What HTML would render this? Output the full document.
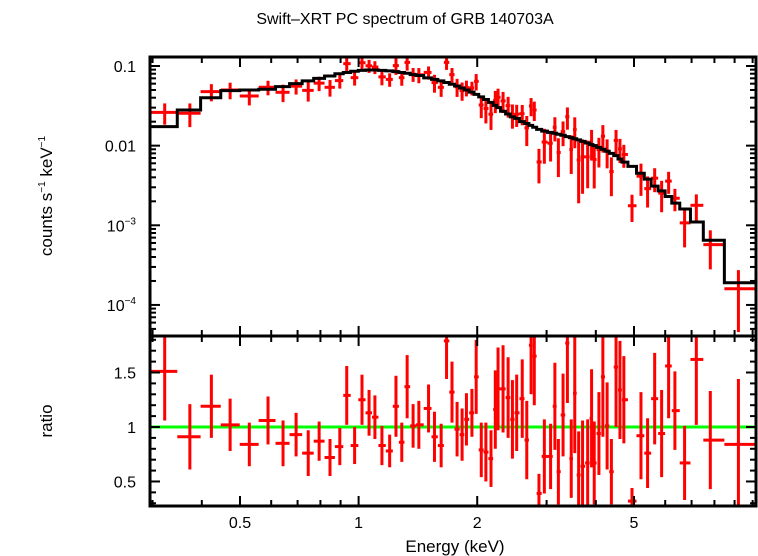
<!DOCTYPE html>
<html><head><meta charset="utf-8"><style>
html,body{margin:0;padding:0;background:#fff;}
svg{display:block;font-family:"Liberation Sans",Arial,sans-serif;}
</style></head><body>
<svg id="chart" width="758" height="556" viewBox="0 0 758 556" xmlns="http://www.w3.org/2000/svg">
<text x="405" y="24" font-size="16" text-anchor="middle">Swift–XRT PC spectrum of GRB 140703A</text>
<text x="455" y="552" font-size="17" text-anchor="middle">Energy (keV)</text>
<text transform="translate(52,196) rotate(-90)" font-size="17" text-anchor="middle">counts s<tspan font-size="10" dy="-7">−1</tspan><tspan dy="7"> keV</tspan><tspan font-size="10" dy="-7">−1</tspan></text>
<text transform="translate(52,421) rotate(-90)" font-size="17" text-anchor="middle">ratio</text>
<g id="marks"></g>
<g id="axes"></g>
</svg>
<script>
const energies=[0.322,0.373,0.423,0.472,0.528,0.589,0.643,0.694,0.745,0.794,0.846,0.896,0.933,0.977,1.020,1.063,1.100,1.146,1.199,1.244,1.287,1.328,1.375,1.422,1.505,1.558,1.620,1.672,1.726,1.778,1.831,1.878,1.939,1.988,2.048,2.104,2.168,2.223,2.259,2.326,2.396,2.457,2.519,2.602,2.672,2.740,2.792,2.869,2.961,3.071,3.149,3.214,3.303,3.388,3.465,3.537,3.618,3.702,3.814,3.902,3.963,4.073,4.168,4.273,4.381,4.502,4.606,4.712,4.942,5.208,5.413,5.642,5.876,6.121,6.350,6.720,7.197,7.810,9.204];
const ratios=[1.51,0.91,1.19,1.02,0.84,1.06,0.85,0.93,0.76,0.87,0.72,0.82,1.29,0.83,1.25,1.13,1.09,0.83,0.78,1.19,0.86,1.37,1.01,1.02,1.17,0.91,0.83,1.79,1.32,0.98,0.93,1.07,1.13,1.46,0.79,0.77,0.71,1.16,1.35,1.35,1.27,1.07,1.13,1.26,0.88,1.75,1.65,0.39,0.73,0.73,1.19,0.59,1.11,1.77,0.71,1.31,0.56,0.64,0.67,1.08,0.67,0.94,1.46,1.01,0.59,1.55,1.34,1.25,0.32,0.92,0.76,1.26,0.94,1.56,1.15,0.67,1.62,0.88,0.84];
const ratioErrs=[0.45,0.30,0.29,0.24,0.20,0.22,0.21,0.20,0.21,0.18,0.17,0.17,0.27,0.17,0.23,0.21,0.20,0.18,0.15,0.28,0.18,0.29,0.20,0.22,0.22,0.23,0.20,0.35,0.28,0.25,0.24,0.24,0.22,0.34,0.25,0.27,0.26,0.36,0.38,0.40,0.37,0.36,0.35,0.36,0.36,0.45,0.45,0.18,0.34,0.30,0.40,0.30,0.38,0.55,0.36,0.55,0.40,0.42,0.40,0.45,0.38,0.38,0.55,0.40,0.30,0.55,0.45,0.40,0.12,0.40,0.32,0.42,0.40,0.48,0.36,0.34,0.60,0.45,0.60];
const modelRates=[0.0173,0.028,0.040,0.049,0.050,0.051,0.055,0.060,0.065,0.070,0.075,0.080,0.083,0.086,0.088,0.089,0.089,0.088,0.087,0.085,0.083,0.081,0.078,0.076,0.071,0.068,0.065,0.062,0.059,0.056,0.053,0.050,0.047,0.044,0.041,0.038,0.035,0.032,0.030,0.027,0.025,0.023,0.022,0.020,0.019,0.018,0.017,0.016,0.0152,0.0147,0.0143,0.0139,0.0135,0.013,0.0126,0.0122,0.0118,0.0113,0.0108,0.0103,0.010,0.0095,0.009,0.0085,0.008,0.0075,0.0068,0.0062,0.0055,0.0045,0.0038,0.0031,0.0027,0.0023,0.0019,0.0016,0.0011,0.00065,0.00019];
const xTickLabels=["0.5","1","2","5"];
const xTickValues=[0.5,1,2,5];
const ratioTickLabels=["0.5","1","1.5"];
const ratioTickValues=[0.5,1,1.5];

const L=150,R=756,T1=57,B1=336,B2=506;
const xMin=0.2955,xMax=10.2;
const yMin=-4.39,yMax=-0.887;
const rMin=0.275,rMax=1.835;
function xs(e){return L+(Math.log10(e)-Math.log10(xMin))/(Math.log10(xMax)-Math.log10(xMin))*(R-L);}
function ys(v){const l=Math.log10(Math.max(v,1e-6));return B1-(l-yMin)/(yMax-yMin)*(B1-T1);}
function yr(v){return B2-(v-rMin)/(rMax-rMin)*(B2-B1);}
const NS="http://www.w3.org/2000/svg";
const marks=document.getElementById('marks'),axes=document.getElementById('axes');
function mk(tag,attrs,parent){const e=document.createElementNS(NS,tag);for(const k in attrs)e.setAttribute(k,attrs[k]);parent.appendChild(e);return e;}
const edges=[xMin];
for(let i=0;i<energies.length-1;i++)edges.push(Math.sqrt(energies[i]*energies[i+1]));
edges.push(xMax);
const defs=mk('defs',{},document.getElementById('chart'));
const c1=mk('clipPath',{id:'c1'},defs);mk('rect',{x:L,y:T1,width:R-L,height:B1-T1},c1);
const c2=mk('clipPath',{id:'c2'},defs);mk('rect',{x:L,y:B1,width:R-L,height:B2-B1},c2);
const gTop=mk('g',{'clip-path':'url(#c1)'},marks);


const gBot=mk('g',{'clip-path':'url(#c2)'},marks);


const gl=mk('line',{x1:L,x2:R,y1:yr(1),y2:yr(1),stroke:'#00ff00','stroke-width':3},gBot);


energies.forEach((e,i)=>{
  const x0=xs(edges[i]),x1=xs(edges[i+1]),xc=xs(e);
  const rate=ratios[i]*modelRates[i],err=ratioErrs[i]*modelRates[i];
  const g=mk('g',{stroke:'#ff0000','stroke-width':3},gTop);
  
  
  mk('line',{x1:x0,x2:x1,y1:ys(rate),y2:ys(rate)},g);
  mk('line',{x1:xc,x2:xc,y1:ys(rate+err),y2:ys(Math.max(rate-err,rate*0.25))},g);
  const g2=mk('g',{stroke:'#ff0000','stroke-width':3},gBot);
  
  
  mk('line',{x1:x0,x2:x1,y1:yr(ratios[i]),y2:yr(ratios[i])},g2);
  mk('line',{x1:xc,x2:xc,y1:yr(ratios[i]+ratioErrs[i]),y2:yr(ratios[i]-ratioErrs[i])},g2);
});
let d='';
energies.forEach((e,i)=>{const y=ys(modelRates[i]);d+=(i===0?'M':'L')+xs(edges[i])+','+y+'L'+xs(edges[i+1])+','+y;});
const mp=mk('path',{d:d,fill:'none',stroke:'#000','stroke-width':3},gTop);


const f1=mk('rect',{x:L,y:T1,width:R-L,height:B1-T1,fill:'none',stroke:'#000','stroke-width':3},axes);


const f2=mk('rect',{x:L,y:B1,width:R-L,height:B2-B1,fill:'none',stroke:'#000','stroke-width':3},axes);


const minorE=[0.3,0.4,0.5,0.6,0.7,0.8,0.9,1,2,3,4,5,6,7,8,9,10];
minorE.forEach(e=>{
  const x=xs(e),major=xTickValues.includes(e),len=major?10:6;
  [T1,B1,B1,B2].forEach((y0,k)=>{const dir=(k%2===0)?1:-1;mk('line',{x1:x,x2:x,y1:y0,y2:y0+dir*len,stroke:'#000','stroke-width':2},axes);});
});
xTickValues.forEach((v,i)=>{const t=mk('text',{x:xs(v),y:528,'font-size':16,'text-anchor':'middle'},axes);t.textContent=xTickLabels[i];

});
for(let dec=-5;dec<=-1;dec++){for(let m=1;m<10;m++){const v=m*Math.pow(10,dec);const l=Math.log10(v);if(l<yMin||l>yMax)continue;const y=ys(v),len=m===1?10:6;
mk('line',{x1:L,x2:L+len,y1:y,y2:y,stroke:'#000','stroke-width':2},axes);mk('line',{x1:R,x2:R-len,y1:y,y2:y,stroke:'#000','stroke-width':2},axes);}}
const topLabels=[[0.1,'0.1',null],[0.01,'0.01',null],[0.001,'10','−3'],[0.0001,'10','−4']];
topLabels.forEach(([v,a,b])=>{const t=mk('text',{x:136,y:ys(v)+6,'font-size':16,'text-anchor':'end'},axes);t.textContent=a;
if(b){const s=mk('tspan',{'font-size':10,dy:-7},t);s.textContent=b;}

});
for(let k=3;k<=18;k++){const v=k/10;if(v<rMin||v>rMax)continue;const y=yr(v),len=(k%5===0)?10:6;
mk('line',{x1:L,x2:L+len,y1:y,y2:y,stroke:'#000','stroke-width':2},axes);mk('line',{x1:R,x2:R-len,y1:y,y2:y,stroke:'#000','stroke-width':2},axes);}
ratioTickValues.forEach((v,i)=>{const t=mk('text',{x:136,y:yr(v)+6,'font-size':16,'text-anchor':'end'},axes);t.textContent=ratioTickLabels[i];

});
</script>
</body></html>
